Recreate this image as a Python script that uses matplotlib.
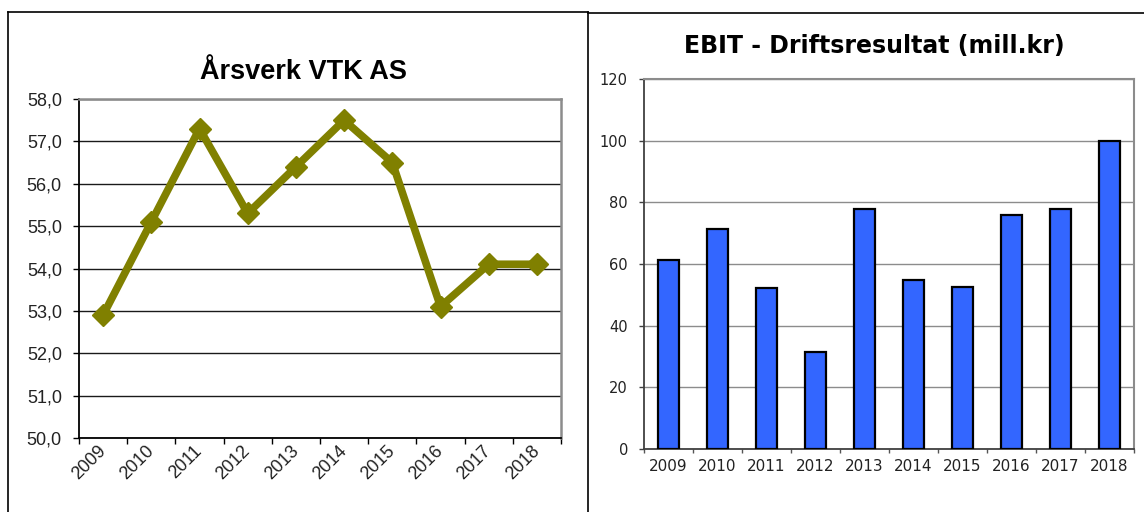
import matplotlib
matplotlib.use('Agg')
import matplotlib.pyplot as plt
from matplotlib.lines import Line2D

years = ['2009', '2010', '2011', '2012', '2013', '2014', '2015', '2016', '2017', '2018']
arsverk = [52.9, 55.1, 57.3, 55.3, 56.4, 57.5, 56.5, 53.1, 54.1, 54.1]
ebit = [61.3, 71.2, 52.3, 31.4, 77.8, 54.8, 52.5, 76.0, 77.8, 99.8]
arsverk_ticks = [50, 51, 52, 53, 54, 55, 56, 57, 58]
ebit_ticks = [0, 20, 40, 60, 80, 100, 120]
title_left = 'Årsverk VTK AS'
title_right = 'EBIT - Driftsresultat (mill.kr)'

W, H = 1144, 512
fig = plt.figure(figsize=(W / 100, H / 100), dpi=100)


def px(x0, y0, x1, y1):
    return [x0 / W, 1 - y1 / H, (x1 - x0) / W, (y1 - y0) / H]


# panel frames
def fline(xs, ys, **kw):
    fig.add_artist(Line2D([v / W for v in xs], [1 - v / H for v in ys],
                          transform=fig.transFigure, color='black', lw=1.2, **kw))


fline([8, 8], [12, H + 5])
fline([8, 588], [12, 12])
fline([588, 588], [12, H + 5])
fline([588, W + 5], [13, 13])

xpos = list(range(len(years)))
bounds = [i - 0.5 for i in range(len(years) + 1)]

# ---------- Left: line chart ----------
lf = 'Liberation Sans'
ax1 = fig.add_axes(px(79, 99, 561, 438))
ax1.plot(xpos, arsverk, color='#808000', lw=5.5, marker='D', ms=11.5,
         mfc='#808000', mec='#808000', mew=1, zorder=3, clip_on=False)
ax1.set_xlim(-0.5, len(years) - 0.5)
ax1.set_ylim(arsverk_ticks[0], arsverk_ticks[-1])
ax1.set_yticks(arsverk_ticks)
ax1.set_yticklabels([f'{v:.1f}'.replace('.', ',') for v in arsverk_ticks],
                    fontsize=13, family=lf, color='#222222')
ax1.yaxis.grid(True, color='#1a1a1a', lw=1)
ax1.set_axisbelow(True)
ax1.set_xticks(xpos)
ax1.set_xticklabels(years, rotation=45, ha='right', va='center',
                    rotation_mode='anchor', fontsize=13, family=lf, color='#222222')
ax1.set_xticks(bounds, minor=True)
ax1.tick_params(axis='x', which='major', length=0, pad=7.5)
ax1.tick_params(axis='x', which='minor', length=4.3, width=1, color='black', direction='out')
ax1.tick_params(axis='y', length=4.3, width=1, color='black', pad=8)
for s in ['left', 'bottom']:
    ax1.spines[s].set_color('black')
    ax1.spines[s].set_linewidth(1.3)
for s in ['top', 'right']:
    ax1.spines[s].set_color('#8c8c8c')
    ax1.spines[s].set_linewidth(1.8)

fig.text(303.5 / W, 1 - 79 / H, title_left, ha='center', va='baseline',
         fontsize=19.5, fontweight='bold', family=lf, color='black')

# ---------- Right: bar chart ----------
rf = 'DejaVu Sans'
ax2 = fig.add_axes(px(644, 79, 1134, 449))
ax2.bar(xpos, ebit, width=0.42, color='#3366ff', edgecolor='black', lw=1.6, zorder=3)
ax2.set_xlim(-0.5, len(years) - 0.5)
ax2.set_ylim(ebit_ticks[0], ebit_ticks[-1])
ax2.set_yticks(ebit_ticks)
ax2.set_yticklabels([str(v) for v in ebit_ticks], fontsize=10.5, family=rf, color='#222222')
ax2.yaxis.grid(True, color='#8c8c8c', lw=1)
ax2.set_axisbelow(True)
ax2.set_xticks(xpos)
ax2.set_xticklabels(years, fontsize=11, family=rf, color='#222222')
ax2.set_xticks(bounds, minor=True)
ax2.tick_params(axis='x', which='major', length=0, pad=7)
ax2.tick_params(axis='x', which='minor', length=3, width=1, color='#555555', direction='out')
ax2.tick_params(axis='y', length=3.6, width=1, color='#404040', pad=8)
for s in ['left', 'bottom']:
    ax2.spines[s].set_color('#404040')
    ax2.spines[s].set_linewidth(1.3)
for s in ['top', 'right']:
    ax2.spines[s].set_color('#8c8c8c')
    ax2.spines[s].set_linewidth(1.5)

fig.text(874 / W, 1 - 52.7 / H, title_right, ha='center', va='baseline',
         fontsize=17, fontweight='bold', family=rf, color='black')

fig.savefig('out.png', dpi=100)
